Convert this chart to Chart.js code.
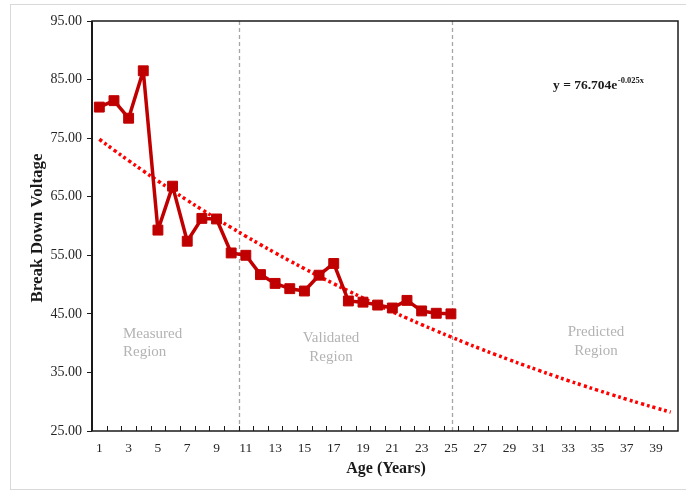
<!DOCTYPE html>
<html>
<head>
<meta charset="utf-8">
<script src="https://cdn.jsdelivr.net/npm/chart.js@4.4.1/dist/chart.umd.min.js"></script>
<style>
  html, body { margin: 0; padding: 0; background: #fff; }
  #wrap { position: relative; width: 686px; height: 493px; }
  #frame { position: absolute; left: 10px; top: 4px; width: 690px; height: 486px; border: 1px solid #d9d9d9; box-sizing: border-box; pointer-events: none; }
  canvas { position: absolute; left: 0; top: 0; }
</style>
</head>
<body>
<div id="wrap">
  <div id="frame"></div>
  <canvas id="chart" width="686" height="493"></canvas>
</div>
<script>
// Age in years along the category axis
const ages = Array.from({ length: 40 }, (_, i) => String(i + 1));

// Measured / validated break down voltage, years 1–25
const breakdownVoltage = [
  80.3, 81.4, 78.4, 86.5, 59.3, 66.8, 57.4, 61.3, 61.2, 55.4,
  55.0, 51.7, 50.2, 49.3, 48.9, 51.6, 53.6, 47.2, 47.0, 46.5,
  46.0, 47.3, 45.5, 45.1, 45.0
];

// Exponential fit y = a·e^(b·x) as printed on the chart
const fitA = 76.704;
const fitB = -0.025;
const trendValues = ages.map(a => fitA * Math.exp(fitB * Number(a)));

// Y axis range and tick step
const yMin = 25, yMax = 95, yStep = 10;

// Region boundaries (in years)
const measuredEnd = 10.5;
const validatedEnd = 25.1;

const SERIF = '"Liberation Serif", "DejaVu Serif", serif';

function xPix(scale, v) {
  // fractional year -> pixel on the category scale
  const i = v - 1;
  const lo = Math.floor(i), hi = lo + 1;
  const pLo = scale.getPixelForValue(lo), pHi = scale.getPixelForValue(hi);
  return pLo + (pHi - pLo) * (i - lo);
}

const decorations = {
  id: 'decorations',
  beforeDatasetsDraw(chart) {
    const { ctx, chartArea: a, scales: { x } } = chart;
    ctx.save();
    // region separators
    ctx.strokeStyle = '#a6a6a6';
    ctx.lineWidth = 1.3;
    ctx.setLineDash([4, 3]);
    [measuredEnd, validatedEnd].forEach(v => {
      const px = Math.round(xPix(x, v)) + 0.5;
      ctx.beginPath();
      ctx.moveTo(px, a.top);
      ctx.lineTo(px, a.bottom);
      ctx.stroke();
    });
    ctx.setLineDash([]);

    // region captions
    ctx.fillStyle = '#b3b3b3';
    ctx.font = '15px ' + SERIF;
    ctx.textBaseline = 'middle';
    ctx.textAlign = 'left';
    ctx.fillText('Measured', 123, 334);
    ctx.fillText('Region', 123, 352);
    ctx.textAlign = 'center';
    ctx.fillText('Validated', 331, 338);
    ctx.fillText('Region', 331, 357);
    ctx.fillText('Predicted', 596, 332);
    ctx.fillText('Region', 596, 351);
    ctx.restore();
  },
  afterDraw(chart) {
    const { ctx, chartArea: a, scales: { x } } = chart;
    ctx.save();
    // plot frame
    ctx.strokeStyle = '#1a1a1a';
    ctx.lineWidth = 1.5;
    ctx.strokeRect(a.left, a.top, a.right - a.left, a.bottom - a.top);
    ctx.lineWidth = 2;
    ctx.beginPath();
    ctx.moveTo(a.left, a.top);
    ctx.lineTo(a.left, a.bottom);
    ctx.stroke();

    // inward tick marks between categories
    ctx.lineWidth = 1;
    ctx.strokeStyle = '#1a1a1a';
    for (let k = 1; k < ages.length; k++) {
      const px = Math.round((x.getPixelForValue(k - 1) + x.getPixelForValue(k)) / 2) + 0.5;
      ctx.beginPath();
      ctx.moveTo(px, a.bottom);
      ctx.lineTo(px, a.bottom - 5);
      ctx.stroke();
    }

    // axis titles
    ctx.fillStyle = '#1a1a1a';
    ctx.font = 'bold 16px ' + SERIF;
    ctx.textAlign = 'center';
    ctx.textBaseline = 'middle';
    ctx.fillText('Age (Years)', (a.left + a.right) / 2 + 1, 469);
    ctx.save();
    ctx.translate(38, (a.top + a.bottom) / 2 + 2);
    ctx.rotate(-Math.PI / 2);
    ctx.font = 'bold 17px ' + SERIF;
    ctx.fillText('Break Down Voltage', 0, 0);
    ctx.restore();

    // fit equation
    ctx.textAlign = 'left';
    ctx.textBaseline = 'alphabetic';
    ctx.font = 'bold 13.5px ' + SERIF;
    const base = 'y = ' + fitA.toFixed(3) + 'e';
    ctx.fillText(base, 553, 89);
    const w = ctx.measureText(base).width;
    ctx.font = 'bold 8.5px ' + SERIF;
    ctx.fillText(fitB.toFixed(3) + 'x', 553 + w + 0.5, 83);
    ctx.restore();
  }
};

new Chart(document.getElementById('chart'), {
  type: 'line',
  data: {
    labels: ages,
    datasets: [
      {
        label: 'Break Down Voltage',
        data: breakdownVoltage,
        borderColor: '#C00000',
        backgroundColor: '#C00000',
        borderWidth: 3.5,
        borderJoinStyle: 'round',
        pointStyle: 'rect',
        pointRadius: 7,
        pointBorderWidth: 1,
        tension: 0,
        order: 1
      },
      {
        label: 'Expon. fit',
        data: trendValues,
        borderColor: '#FF0000',
        borderWidth: 3.5,
        borderDash: [3, 3],
        pointRadius: 0,
        tension: 0.4,
        order: 2
      }
    ]
  },
  options: {
    responsive: false,
    animation: false,
    events: [],
    layout: { padding: { left: 0, top: 21, right: 5, bottom: 0 } },
    plugins: { legend: { display: false }, tooltip: { enabled: false } },
    scales: {
      x: {
        type: 'category',
        offset: true,
        grid: { display: false, drawTicks: false },
        border: { display: false },
        afterFit(s) { s.height = 62; },
        ticks: {
          autoSkip: false,
          maxRotation: 0,
          padding: 9,
          color: '#262626',
          font: { family: SERIF, size: 13.5 },
          callback(v, i) { return i % 2 === 0 ? ages[i] : ''; }
        }
      },
      y: {
        min: yMin,
        max: yMax,
        afterFit(s) { s.width = 92; },
        grid: { drawOnChartArea: false, tickLength: 5, color: '#1a1a1a' },
        border: { display: false },
        ticks: {
          stepSize: yStep,
          padding: 5,
          color: '#262626',
          font: { family: SERIF, size: 14 },
          callback: v => Number(v).toFixed(2)
        }
      }
    }
  },
  plugins: [decorations]
});
</script>
</body>
</html>
